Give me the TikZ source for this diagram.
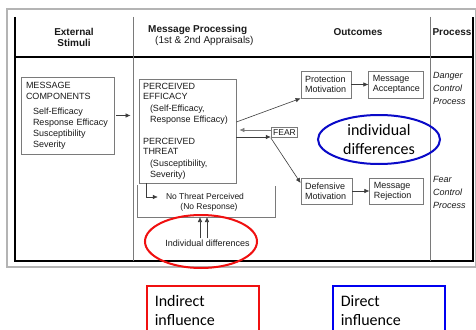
\documentclass[tikz,border=0pt]{standalone}
\usepackage{fontspec}
\setmainfont{Liberation Sans}
\newfontfamily\legendfont{Carlito}
\usetikzlibrary{arrows.meta, positioning, shapes.geometric}
\definecolor{EPink}{HTML}{1A1A1A}
\definecolor{EPline}{HTML}{7A7A7A}
\definecolor{EPframe}{HTML}{B4B4B4}
\definecolor{EPred}{HTML}{F01010}
\definecolor{EPblue}{HTML}{0A0AC8}
\definecolor{EPblueL}{HTML}{0000F0}
\tikzset{
  epbox/.style={
    rectangle, draw=EPline, line width=0.8pt, fill=white, text=EPink,
    align=left, inner xsep=4pt, inner ysep=2pt,
    font=\fontsize{9}{10}\selectfont},
  ephead/.style={text=EPink, align=center, inner sep=0pt,
    font=\fontsize{10}{11}\selectfont\bfseries},
  epproc/.style={text=EPink, align=left, inner sep=0pt,
    font=\fontsize{9}{13}\selectfont\itshape},
  eparr/.style={-{Latex[length=5pt,width=4.5pt]}, line width=0.6pt, draw=EPink!85},
  eprule/.style={line width=0.6pt, draw=EPline},
  epring/.style={ellipse, line width=2pt, inner sep=0pt},
  eplegend/.style={
    rectangle, line width=1.6pt, anchor=north west, align=left,
    text width=96pt, inner xsep=8pt, minimum height=50pt, text=black,
    font=\legendfont\fontsize{16}{19}\selectfont},
}

\begin{document}
\begin{tikzpicture}[x=1pt, y=-1pt]
  \useasboundingbox (0,0) rectangle (476,329);
  \clip (0,0) rectangle (476,329);
  \fill[white] (0,0) rectangle (476,329);
  % table frame
  \draw[draw=EPframe, line width=1.2pt] (7,9) rectangle (475.5,267);
  \draw[line width=1.8pt] (15,17) |- (473,261) -- (473,17);
  \draw[line width=1.2pt] (15,57) -- (473,57);
  \draw[eprule] (133,17) -- (133,261);
  \draw[eprule] (430,17) -- (430,261);

  \node[ephead] (hstim) at (74,37.5) {External\\Stimuli};
  \node[ephead, align=left, anchor=west] (hproc) at (148,35.5)
    {Message Processing\\\hspace*{7pt}{\normalfont (1st \& 2nd Appraisals)}};
  \node[ephead] (hout) at (358,32) {Outcomes};
  \node[ephead] (hprc) at (452,32) {Process};

  \node[epbox, font=\fontsize{9}{11}\selectfont, text width=83pt, inner xsep=5pt,
    minimum height=77pt] (comp) at (67.5,115.5)
    {MESSAGE\\COMPONENTS\\[4pt]
     \hspace*{7pt}Self-Efficacy\\\hspace*{7pt}Response Efficacy\\
     \hspace*{7pt}Susceptibility\\\hspace*{7pt}Severity};
  \node[epbox, font=\fontsize{9}{10.5}\selectfont, text width=89pt,
    minimum height=104pt] (perc) at (187.5,131)
    {PERCEIVED\\EFFICACY\\[1.5pt]
     \hspace*{7pt}(Self-Efficacy,\\\hspace*{7pt}Response Efficacy)\\[11.5pt]
     PERCEIVED\\THREAT\\[1.5pt]
     \hspace*{7pt}(Susceptibility,\\\hspace*{7pt}Severity)};

  \node[epbox, text width=42pt, minimum height=27pt] (prot) at (326,84.5) {Protection\\Motivation};
  \node[epbox, text width=47pt, minimum height=27pt, right=17pt of prot] (acc) {Message\\Acceptance};
  \node[epbox, font=\fontsize{8.5}{10}\selectfont, inner sep=2pt] (fear) at (284.5,132.5) {FEAR};
  \node[epbox, text width=43pt, minimum height=26pt] (def) at (326.5,191) {Defensive\\Motivation};
  \node[epbox, text width=46pt, minimum height=26pt, right=17pt of def] (rej) {Message\\Rejection};

  \node[epproc, anchor=west] (dcp) at (433,88) {Danger\\Control\\Process};
  \node[epproc, anchor=west] (fcp) at (433,192) {Fear\\Control\\Process};

  % no threat bracket
  \draw[eprule] (137,185) |- (275,217) -- (275,186);
  \coordinate (ubase) at (204,217);
  \node[font=\fontsize{8.5}{10}\selectfont, text=EPink, align=center, inner sep=1pt]
    (nothr) at (205,202) {No Threat Perceived\\\hspace*{8pt}(No Response)};
  \node[font=\fontsize{9}{10}\selectfont, text=EPink, inner sep=1pt]
    (indiv) at (207.5,243) {Individual differences};

  \draw[eparr, shorten <=2pt, shorten >=8pt] (comp.east) -- (comp.east -| perc.west);
  \draw[eparr] ([yshift=9pt]perc.east) -- (prot.south west);
  \draw[eparr] (prot) -- (acc);
  \draw[eparr, draw=EPline, shorten >=3pt] ([yshift=2.5pt]fear.west) -- ([yshift=2.5pt]fear.west -| perc.east);
  \draw[eparr] ([yshift=-4.5pt]fear.west -| perc.east) -- ([yshift=-4.5pt]fear.west);
  \draw[eparr] (fear.south west) -- ([yshift=8pt]def.west);
  \draw[eparr] (def) -- (rej);
  \draw[eparr] ([xshift=8pt]perc.south west) |- ([xshift=-7pt, yshift=5pt]nothr.west);
  \draw[eparr] ([xshift=-7.5pt]indiv.north) -- ([xshift=-7.5pt]indiv.north |- ubase);
  \draw[eparr] ([xshift=-0.5pt]indiv.north) -- ([xshift=-0.5pt]indiv.north |- ubase);

  % influence marks
  \node[epring, draw=EPred, minimum width=112pt, minimum height=53pt] (indring) at (201,241.5) {};
  \node[epring, draw=EPblue, minimum width=122pt, minimum height=49pt, align=center,
    font=\legendfont\fontsize{16}{19}\selectfont] (dirring) at (379,139.5) {individual\\differences};

  \node[eplegend, draw=EPred] (indleg) at (146,285) {Indirect\\influence};
  \node[eplegend, draw=EPblueL] (dirleg) at (332,285) {Direct\\influence};
\end{tikzpicture}
\end{document}
